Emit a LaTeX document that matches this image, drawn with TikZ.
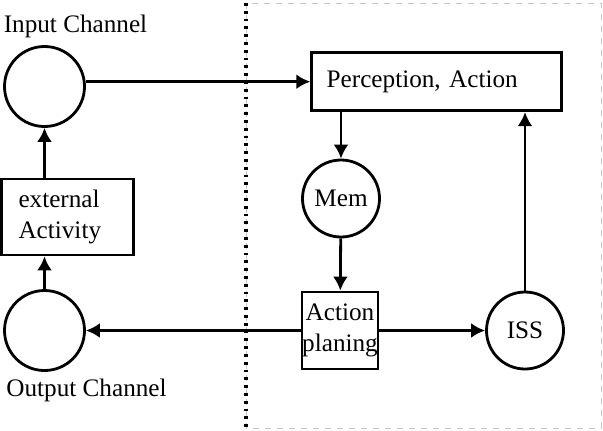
\documentclass[tikz,border=0pt]{standalone}
\usepackage{fontspec}
\setmainfont{Liberation Serif}
\usetikzlibrary{arrows.meta}

\begin{document}
\begin{tikzpicture}[x=0.5pt,y=-0.5pt,
  every node/.style={font=\fontsize{12.6}{15.5}\selectfont},
  chan/.style={draw,circle,line width=1.4pt,minimum size=40pt,inner sep=0pt},
  state/.style={draw,circle,line width=1.4pt,minimum size=38.5pt,inner sep=0pt},
  box/.style={draw,rectangle,line width=1.4pt},
  arr/.style={line width=1.4pt,-{Latex[length=7pt,width=7.5pt]}}]
  \useasboundingbox (0,0) rectangle (603,430);
  % agent area
	\draw [gray!45,dashed,line width=0.5pt] (246,3) rectangle (601,428);
	\draw [line width=1.8pt,dash pattern=on 1.4pt off 2.5pt] (246,3) -- (246,428);
  % nodes
	\node [chan,label={[xshift=15.5pt]above:Input Channel}] (0) at (44.5,86.5) {};
	\node [chan,label={[xshift=21pt]below:Output Channel}] (1) at (44.5,330.5) {};
	\node [box,minimum width=65.5pt,minimum height=38pt,inner xsep=8.5pt,text width=49pt,align=left] (2) at (67.5,217) {external\\Activity};
	\node [box,minimum width=125pt,minimum height=29pt,inner xsep=7.5pt,text width=110pt,align=left] (5) at (436.7,81.7) {Perception, Action};
	\node [state] (6) at (341,198.5) {Mem};
	\node [box,minimum width=38pt,minimum height=38.5pt,inner sep=0pt,align=center] (8) at (340,330.5) {Action\\planing};
	\node [state] (9) at (525,330.5) {ISS};
  % edges
	\draw [arr] (0.east |- 5.west) to (5.west);
	\draw [arr] (6 |- 5.south) to (6);
	\draw [arr] (6) to (8);
	\draw [arr] (8) to (9);
	\draw [arr] (9) to (9 |- 5.south);
	\draw [arr] (8) to (1);
	\draw [arr] (1) to (1 |- 2.south);
	\draw [arr] (0 |- 2.north) to (0);
\end{tikzpicture}
\end{document}
